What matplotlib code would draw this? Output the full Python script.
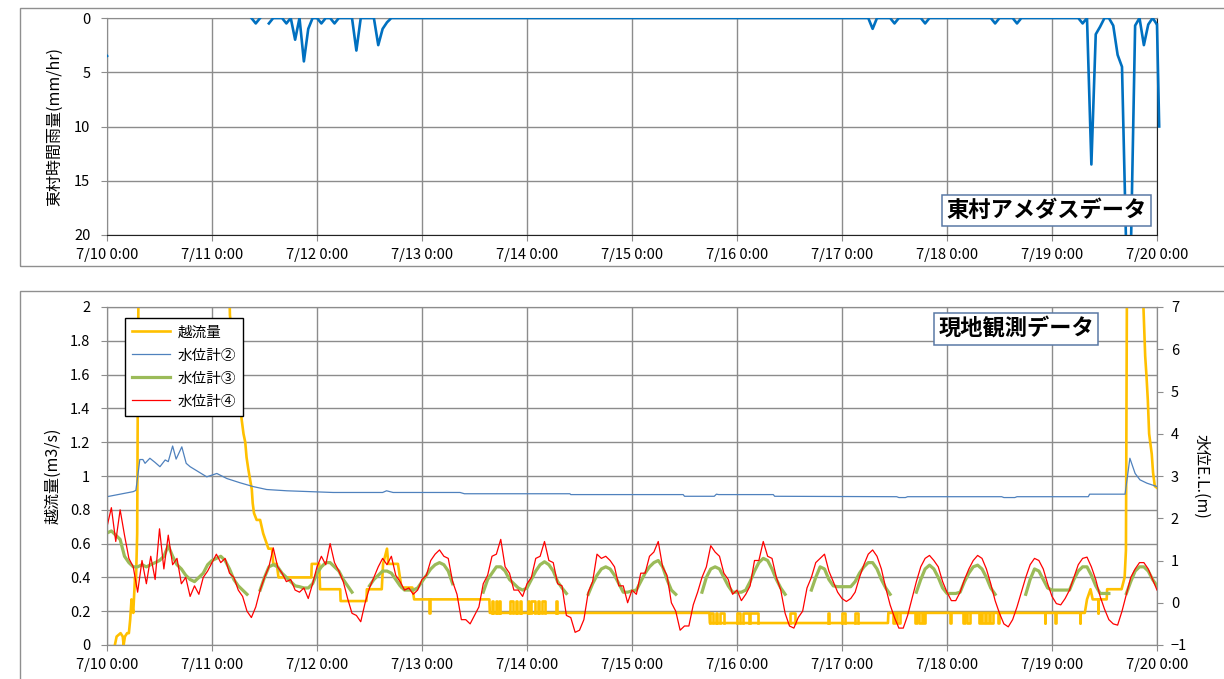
import numpy as np
import matplotlib.pyplot as plt
from matplotlib.patches import Rectangle
from matplotlib.lines import Line2D

plt.rcParams['font.family'] = ['Noto Sans CJK JP', 'DejaVu Sans']

nan = np.nan

day_labels = ['7/10 0:00', '7/11 0:00', '7/12 0:00', '7/13 0:00', '7/14 0:00', '7/15 0:00',
              '7/16 0:00', '7/17 0:00', '7/18 0:00', '7/19 0:00', '7/20 0:00']

# 東村 時間雨量 (経過時間[h], mm/hr)
rain_h = [-1, 0, 1, 33, 34, 35, 36, 37, 38, 40, 41, 42, 43, 44, 45, 46, 47, 48, 49, 50,
          51, 52, 53, 56, 57, 58, 61, 62, 63, 64, 65, 174, 175, 176, 179, 180, 181, 186, 187, 188,
          202, 203, 204, 207, 208, 209, 222, 223, 224, 225, 226, 227, 228, 229, 230, 231, 232, 233, 234, 235,
          236, 237, 238, 239, 240]
rain_v = [3.0, 3.5, nan, 0, 0.5, 0, nan, 0.5, 0, 0, 0.5, 0, 2.0, 0, 4.0, 1.0, 0, 0, 0.5, 0,
          0, 0.5, 0, 0, 3.0, 0, 0, 2.5, 1.0, 0.4, 0, 0, 1.0, 0, 0, 0.5, 0, 0, 0.5, 0,
          0, 0.5, 0, 0, 0.5, 0, 0, 0.5, 0, 13.5, 1.5, 0.8, 0, 0, 0.7, 3.4, 4.5, 22, 22, 0.7,
          0, 2.5, 0.6, 0, 0.6]
rain_tail_h = [240, 240.5]
rain_tail_v = [0.6, 10.0]

# 越流量 (m3/s)
flow_h = [1.8, 2.2, 3.1, 3.6, 3.8, 4.1, 4.6, 5.0, 5.3, 5.6,
          6.0, 6.4, 6.6, 6.9, 7.0, 7.3, 27.5, 28.1, 29.5, 30.8,
          31.2, 31.6, 31.9, 32.3, 33.1, 33.3, 33.6, 34.2, 35.0, 35.7,
          36.9, 37.7, 38.0, 38.8, 39.2, 46.7, 46.8, 48.5, 48.7, 53.3,
          53.4, 59.3, 59.4, 62.8, 63.1, 64.0, 64.3, 66.5, 67.3, 69.8,
          70.2, 87.4, 87.5, 137.7, 137.8, 178.5, 178.6, 223.5, 224.0, 224.8,
          225.3, 228.5, 228.6, 231.9, 232.6, 232.9, 233.2, 236.6, 236.9, 237.3,
          237.6, 237.9, 238.2, 238.8, 239.1, 239.5, 240.0]
flow_q = [0.0, 0.05, 0.07, 0.05, 0.0, 0.05, 0.07, 0.07, 0.15, 0.27,
          0.19, 0.40, 0.35, 0.66, 1.25, 2.6, 2.6, 1.95, 1.65, 1.33,
          1.25, 1.2, 1.11, 1.04, 0.92, 0.84, 0.78, 0.74, 0.74, 0.66,
          0.57, 0.57, 0.48, 0.48, 0.40, 0.40, 0.48, 0.48, 0.33, 0.33,
          0.26, 0.26, 0.33, 0.33, 0.48, 0.57, 0.48, 0.48, 0.34, 0.34,
          0.27, 0.27, 0.19, 0.19, 0.13, 0.13, 0.19, 0.19, 0.27, 0.33,
          0.27, 0.27, 0.33, 0.33, 0.40, 0.56, 2.6, 2.6, 2.0, 1.71,
          1.59, 1.45, 1.25, 1.13, 1.02, 0.94, 0.93]
# short excursions of the flow gauge: (start h, end h, value)
flow_spikes = [(73.7, 73.9, 0.19),
               (87.9, 88.2, 0.26), (88.9, 89.2, 0.26), (89.6, 89.8, 0.26), (92.1, 92.9, 0.26),
               (93.5, 93.7, 0.26), (94.3, 94.6, 0.26), (96.2, 96.4, 0.26), (97.0, 97.8, 0.26),
               (98.5, 98.7, 0.26), (99.4, 100.1, 0.26), (102.7, 102.9, 0.26),
               (137.8, 138.6, 0.19), (139.3, 139.5, 0.19), (140.1, 141.0, 0.19), (143.9, 144.6, 0.19),
               (145.4, 146.8, 0.19), (147.0, 148.8, 0.19), (156.1, 157.3, 0.19), (164.8, 165.0, 0.19),
               (168.0, 168.7, 0.19), (171.0, 171.7, 0.19),
               (179.7, 180.2, 0.13), (180.6, 181.3, 0.13), (184.7, 185.2, 0.13), (185.6, 186.2, 0.13),
               (186.5, 187.0, 0.13), (192.6, 192.8, 0.13), (195.7, 196.2, 0.13), (196.6, 197.3, 0.13),
               (199.2, 199.7, 0.13), (200.0, 200.6, 0.13), (201.0, 201.5, 0.13), (201.9, 202.6, 0.13),
               (203.6, 203.8, 0.13), (214.3, 214.5, 0.13), (216.6, 216.8, 0.13), (222.3, 222.5, 0.13),
               (226.4, 226.6, 0.19)]

# 水位計② (E.L. m)
lvl2_h = [0, 6, 6.6, 7.2, 7.5, 8.2, 8.7, 9.8, 11.0, 12.1,
          13.3, 14.0, 15.0, 15.8, 17.1, 18.1, 19.0, 20.9, 22.8, 25.1,
          27.4, 30.4, 33.4, 36.5, 41.1, 51.7, 63.0, 63.9, 65.4, 80.7,
          81.7, 105.8, 106.0, 131.7, 132.0, 138.8, 139.3, 139.8, 152.3, 152.6,
          180.5, 181.0, 182.5, 183.0, 204.5, 205.0, 207.5, 208.0, 224.3, 224.6,
          232.7, 233.8, 235.0, 236.1, 237.7, 240.0]
lvl2 = [2.51, 2.63, 2.66, 3.14, 3.39, 3.39, 3.30, 3.42, 3.32, 3.22,
        3.38, 3.34, 3.71, 3.40, 3.69, 3.30, 3.22, 3.10, 2.98, 3.06,
        2.94, 2.84, 2.75, 2.68, 2.65, 2.61, 2.61, 2.65, 2.61, 2.61,
        2.58, 2.58, 2.56, 2.56, 2.52, 2.52, 2.57, 2.56, 2.56, 2.52,
        2.51, 2.49, 2.49, 2.51, 2.51, 2.49, 2.49, 2.51, 2.51, 2.57,
        2.57, 3.42, 3.06, 2.91, 2.83, 2.75]

# 水位計③ (hourly, E.L. m)
lvl3 = [
    1.65, 1.7, 1.6, 1.5, 1.1, 0.95, 0.85, 0.85, 0.9, 0.85, 0.9, 0.95,
    1.0, 1.1, 1.35, 1.1, 0.9, 0.8, 0.65, 0.55, 0.5, 0.6, 0.7, 0.9,
    1.0, 1.05, 1.1, 1.0, 0.8, 0.55, 0.4, 0.3, 0.2, nan, nan, 0.3,
    0.6, 0.85, 0.9, 0.85, 0.7, 0.6, 0.5, 0.4, 0.38, 0.35, 0.35, 0.45,
    0.7, 0.85, 0.95, 0.95, 0.85, 0.75, 0.55, 0.4, 0.25, nan, nan, nan,
    0.4, 0.55, 0.65, 0.75, 0.75, 0.7, 0.55, 0.4, 0.3, 0.3, 0.3, 0.35,
    0.5, 0.65, 0.8, 0.9, 0.95, 0.9, 0.75, 0.45, nan, nan, nan, nan,
    nan, nan, 0.25, 0.55, 0.7, 0.85, 0.85, 0.75, 0.55, 0.45, 0.35, 0.3,
    0.35, 0.55, 0.75, 0.9, 0.97, 0.9, 0.75, 0.5, 0.35, 0.22, nan, nan,
    nan, nan, 0.2, 0.45, 0.65, 0.8, 0.85, 0.8, 0.65, 0.45, 0.25, 0.25,
    0.28, 0.3, 0.5, 0.7, 0.85, 0.95, 1.0, 0.85, 0.55, 0.3, 0.2, nan,
    nan, nan, nan, nan, 0.25, 0.6, 0.8, 0.85, 0.8, 0.6, 0.4, 0.25,
    0.25, 0.25, 0.3, 0.5, 0.75, 0.95, 1.05, 1.0, 0.8, 0.55, 0.35, 0.2,
    nan, nan, nan, nan, nan, 0.3, 0.6, 0.85, 0.8, 0.55, 0.4, 0.38,
    0.38, 0.38, 0.38, 0.5, 0.7, 0.85, 0.95, 0.95, 0.8, 0.55, 0.35, 0.2,
    nan, nan, nan, nan, nan, 0.25, 0.55, 0.8, 0.89, 0.8, 0.6, 0.35,
    0.22, 0.22, 0.22, 0.25, 0.5, 0.7, 0.85, 0.89, 0.8, 0.6, 0.35, 0.2,
    nan, nan, nan, nan, nan, nan, 0.2, 0.55, 0.8, 0.75, 0.55, 0.35,
    0.3, 0.3, 0.3, 0.3, 0.3, 0.55, 0.75, 0.85, 0.85, 0.65, 0.4, 0.22,
    0.22, 0.22, nan, nan, nan, 0.22, 0.5, 0.75, 0.85, 0.85, 0.75, 0.55,
    0.4]

# 水位計④ (hourly, E.L. m)
lvl4 = [
    1.8, 2.25, 1.45, 2.2, 1.6, 1.05, 0.85, 0.25, 1.0, 0.45, 1.1, 0.55,
    1.75, 0.8, 1.6, 0.9, 1.05, 0.45, 0.6, 0.15, 0.4, 0.2, 0.6, 0.75,
    0.95, 1.15, 0.95, 1.05, 0.7, 0.6, 0.3, 0.15, -0.2, -0.35, -0.1, 0.3,
    0.6, 0.85, 1.3, 0.85, 0.7, 0.5, 0.55, 0.3, 0.25, 0.35, 0.1, 0.45,
    0.85, 1.1, 0.9, 1.4, 0.95, 0.75, 0.5, 0.1, -0.25, -0.3, -0.45, 0.0,
    0.35, 0.6, 0.85, 1.05, 0.9, 1.1, 0.65, 0.5, 0.3, 0.35, 0.2, 0.3,
    0.55, 0.65, 1.0, 1.15, 1.25, 1.1, 1.05, 0.5, 0.2, -0.4, -0.4, -0.5,
    -0.3, -0.1, 0.45, 0.65, 1.1, 1.15, 1.5, 0.85, 0.7, 0.3, 0.3, 0.15,
    0.45, 0.6, 1.05, 1.1, 1.45, 1.0, 0.95, 0.45, 0.4, -0.3, -0.35, -0.7,
    -0.65, -0.4, 0.25, 0.5, 1.15, 1.05, 1.1, 1.0, 0.85, 0.4, 0.4, 0.0,
    0.3, 0.2, 0.7, 0.7, 1.1, 1.2, 1.45, 0.85, 0.65, 0.0, -0.2, -0.65,
    -0.55, -0.55, -0.05, 0.25, 0.6, 0.85, 1.35, 1.2, 1.1, 0.7, 0.55, 0.2,
    0.3, 0.05, 0.2, 0.4, 1.0, 1.0, 1.45, 1.1, 1.05, 0.6, 0.3, -0.25,
    -0.55, -0.6, -0.35, -0.2, 0.35, 0.6, 0.95, 1.05, 1.15, 0.75, 0.5, 0.25,
    0.1, 0.03, 0.1, 0.25, 0.6, 0.9, 1.15, 1.25, 1.1, 0.8, 0.35, -0.05,
    -0.35, -0.6, -0.6, -0.3, 0.1, 0.5, 0.85, 1.05, 1.12, 1.0, 0.85, 0.5,
    0.25, 0.05, 0.05, 0.25, 0.55, 0.8, 1.0, 1.12, 1.05, 0.8, 0.45, 0.05,
    -0.25, -0.5, -0.57, -0.4, -0.1, 0.25, 0.6, 0.9, 1.05, 1.0, 0.8, 0.45,
    0.15, -0.02, -0.05, 0.1, 0.3, 0.6, 0.9, 1.05, 1.08, 0.85, 0.55, 0.15,
    -0.15, -0.4, -0.5, -0.53, -0.2, 0.2, 0.6, 0.8, 0.95, 0.95, 0.8, 0.55,
    0.3]

hours = np.arange(len(lvl4))

W, H = 1224, 679
GRID = '#8c8c8c'


def fx(px):
    return px / W


def fy(py):
    return 1 - py / H


fig = plt.figure(figsize=(W / 100, H / 100), dpi=100)

# panel frames
fig.add_artist(Rectangle((fx(20), fy(266)), fx(1230 - 20), (266 - 8) / H, transform=fig.transFigure,
                         fill=False, ec='#8f8f8f', lw=1.0))
fig.add_artist(Rectangle((fx(20), fy(700)), fx(1230 - 20), (700 - 291) / H, transform=fig.transFigure,
                         fill=False, ec='#8f8f8f', lw=1.0))

# ---- 上段: 雨量 ----
ax_r = fig.add_axes([fx(107), fy(235), fx(1157 - 107), (235 - 18) / H])
ax_r.plot(rain_h, rain_v, color='#0070C0', lw=1.9, zorder=3)
ax_r.plot(rain_tail_h, rain_tail_v, color='#0070C0', lw=1.9, zorder=3, clip_on=False)
ax_r.set_xlim(0, 240)
ax_r.set_ylim(20, 0)
ax_r.set_yticks(np.arange(0, 21, 5))
ax_r.set_xticks(np.arange(0, 241, 24))
ax_r.set_xticklabels(day_labels)
ax_r.grid(True, color=GRID, lw=1.0)
ax_r.set_axisbelow(True)
ax_r.set_ylabel('東村時間雨量(mm/hr)', fontsize=11.5, labelpad=8)
for s in ['left', 'top']:
    ax_r.spines[s].set_color(GRID)
for s in ['bottom', 'right']:
    ax_r.spines[s].set_color('#222222')
ax_r.tick_params(axis='both', direction='out', length=4, color=GRID, labelsize=10.5, pad=5)
ax_r.tick_params(axis='y', pad=8)
ax_r.text(0.8948, 0.113, '東村アメダスデータ', transform=ax_r.transAxes, ha='center', va='center',
          fontsize=16, fontweight='bold',
          bbox=dict(boxstyle='square,pad=0.2', fc='white', ec='#5a79a5', lw=1.1), zorder=6)

# ---- 下段: 越流量・水位 ----
ax_q = fig.add_axes([fx(107), fy(645), fx(1157 - 107), (645 - 307) / H])
ax_h = ax_q.twinx()

ax_q.plot(flow_h, flow_q, color='#FFC000', lw=1.9, zorder=3)
for a, b, q in flow_spikes:
    base = np.interp(a, flow_h, flow_q)
    ax_q.plot([a, a, b, b], [base, q, q, base], color='#FFC000', lw=1.9, zorder=3)

ax_h.plot(lvl2_h, lvl2, color='#4F81BD', lw=0.9)
ax_h.plot(hours, lvl3, color='#9BBB59', lw=2.3)
ax_h.plot(hours, lvl4, color='#FF0000', lw=0.9)

ax_q.set_xlim(0, 240)
ax_q.set_ylim(0, 2)
ax_q.set_yticks(np.arange(0, 2.01, 0.2))
ax_q.set_yticklabels(['0', '0.2', '0.4', '0.6', '0.8', '1', '1.2', '1.4', '1.6', '1.8', '2'])
ax_q.set_xticks(np.arange(0, 241, 24))
ax_q.set_xticklabels(day_labels)
ax_q.grid(True, color=GRID, lw=1.0)
ax_q.set_axisbelow(True)
ax_q.set_ylabel('越流量(m3/s)', fontsize=11.5, labelpad=6)

ax_h.set_ylim(-1, 7)
ax_h.set_yticks(np.arange(-1, 8, 1))
ax_h.set_ylabel('水位E.L.(m)', fontsize=11.5, rotation=270, labelpad=16)

for a in (ax_q, ax_h):
    for s in a.spines.values():
        s.set_color(GRID)
ax_q.tick_params(axis='both', direction='out', length=4, color=GRID, labelsize=10.5, pad=5)
ax_q.tick_params(axis='y', pad=8)
ax_h.tick_params(axis='y', direction='out', length=4, color=GRID, labelsize=10.5, pad=6)

handles = [Line2D([], [], color='#FFC000', lw=1.9),
           Line2D([], [], color='#4F81BD', lw=0.9),
           Line2D([], [], color='#9BBB59', lw=2.3),
           Line2D([], [], color='#FF0000', lw=0.9)]
leg = ax_h.legend(handles, ['越流量', '水位計②', '水位計③', '水位計④'], loc='upper left',
                  bbox_to_anchor=(0.017, 0.967), borderaxespad=0, fancybox=False, framealpha=1,
                  edgecolor='black', fontsize=10.5, handlelength=2.6, labelspacing=0.62,
                  borderpad=0.5, handletextpad=0.5)
leg.get_frame().set_linewidth(1.0)
leg.set_zorder(8)

ax_h.text(0.8657, 0.935, '現地観測データ', transform=ax_h.transAxes, ha='center', va='center',
          fontsize=16, fontweight='bold',
          bbox=dict(boxstyle='square,pad=0.2', fc='white', ec='#5a79a5', lw=1.1), zorder=7)

fig.savefig('out.png', dpi=100)
